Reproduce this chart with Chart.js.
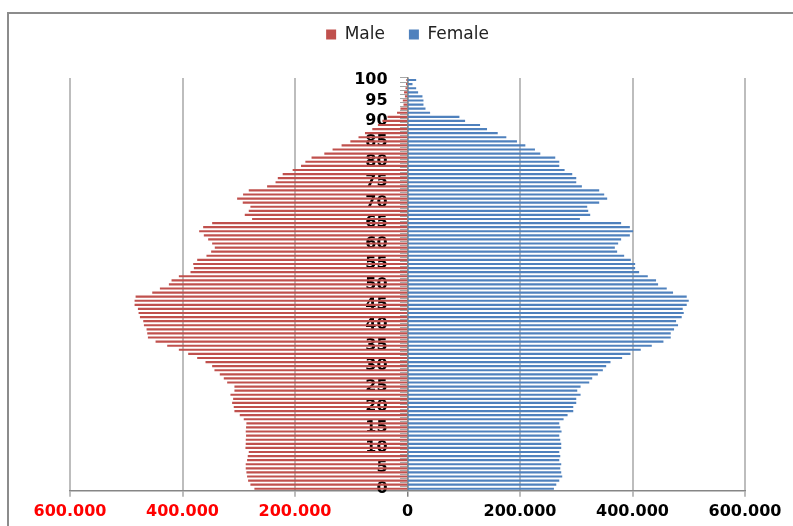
<!DOCTYPE html>
<html>
<head>
<meta charset="utf-8">
<script src="https://cdn.jsdelivr.net/npm/chart.js@4.4.1/dist/chart.umd.min.js"></script>
<style>
    html, body { margin: 0; padding: 0; background: #fff; overflow: hidden; }
    #frame { position: absolute; left: 7px; top: 12px; width: 820px; height: 560px; border: 2px solid #8c8c8c; box-sizing: border-box; }
    #chart { position: absolute; left: 0; top: 0; }
</style>
</head>
<body>
<div id="frame"></div>
<canvas id="chart" width="793" height="526"></canvas>
<script>
// ages 0..100
const ages = Array.from({ length: 101 }, (_, i) => String(i));

// population by single year of age
const male = [
    271600, 278700, 282800, 284600, 285800, 287000, 287000, 284600, 283400, 281600,
    287500, 287000, 287000, 286400, 287000, 286400, 285800, 290500, 297600, 307100,
    308300, 311200, 309400, 314200, 307100, 307100, 320000, 326000, 333100, 342600,
    346700, 358500, 373300, 389300, 405900, 426600, 447300, 460900, 462100, 463300,
    468000, 469200, 475100, 477500, 478700, 484600, 484600, 482800, 453200, 439600,
    423600, 418900, 405900, 385200, 379200, 380400, 373300, 356800, 348500, 342000,
    346700, 353800, 361500, 369800, 362700, 346700, 275700, 288700, 281600, 278700,
    292300, 302300, 291700, 281600, 249000, 234000, 230000, 221300, 203600, 188700,
    181000, 170000, 147300, 132600, 116600, 101000, 86500, 75000, 62000, 52000,
    44000, 35000, 18000, 12000, 6500, 7700, 4000, 5500, 3000, 2000,
    1500
];
const female = [
    259700, 263900, 269200, 274500, 272700, 271000, 272700, 269200, 271000, 269200,
    272700, 272700, 271000, 269200, 273300, 271000, 269200, 276900, 284000, 294100,
    294100, 299400, 299400, 307100, 301200, 307100, 322500, 327800, 337800, 346700,
    352600, 360300, 381000, 395800, 414100, 433700, 454400, 467400, 467400, 473300,
    480400, 476900, 486900, 490500, 488700, 495800, 499400, 495800, 471500, 460300,
    444900, 441300, 426600, 411200, 404100, 404100, 396400, 384600, 372100, 368000,
    373900, 379200, 394700, 400500, 394700, 379200, 305900, 324200, 320700, 318900,
    340200, 354400, 349100, 340200, 309400, 299400, 299400, 292300, 278700, 269200,
    269200, 262100, 235500, 226000, 208900, 194000, 175100, 159800, 140800, 128400,
    101800, 91700, 39600, 31400, 27800, 27800, 26000, 18300, 14800, 8300,
    14800
];

// x axis: -600.000 .. 600.000
const xTicks = [-600000, -400000, -200000, 0, 200000, 400000, 600000];

const fmt = v => String(Math.abs(v)).replace(/\B(?=(\d{3})+(?!\d))/g, '.');

// push the plot down below the legend
const legendSpacer = {
    id: 'legendSpacer',
    beforeInit(chart) {
        const fit = chart.legend.fit;
        chart.legend.fit = function () {
            fit.bind(chart.legend)();
            this.height += 25;
        };
    }
};

new Chart(document.getElementById('chart'), {
    type: 'bar',
    data: {
        labels: ages,
        datasets: [{
            label: 'Male',
            data: male.map(v => -v),
            backgroundColor: '#C0504D',
            borderWidth: 0,
            barThickness: 1.5
        }, {
            label: 'Female',
            data: female,
            backgroundColor: '#4F81BD',
            borderWidth: 0,
            barThickness: 1.5
        }]
    },
    options: {
        indexAxis: 'y',
        responsive: false,
        animation: false,
        devicePixelRatio: 1,
        layout: { padding: { left: 70, right: 48, top: 2, bottom: 0 } },
        plugins: {
            legend: {
                position: 'top',
                labels: {
                    boxWidth: 10,
                    boxHeight: 10,
                    padding: 24,
                    color: '#222',
                    font: { family: 'DejaVu Sans', size: 17 }
                }
            },
            tooltip: { enabled: false }
        },
        scales: {
            x: {
                stacked: true,
                min: xTicks[0],
                max: xTicks[xTicks.length - 1],
                afterBuildTicks: scale => { scale.ticks = xTicks.map(v => ({ value: v })); },
                grid: {
                    color: c => c.tick && c.tick.value === 0 ? '#7f7f7f' : '#bdbdbd',
                    lineWidth: c => c.tick && c.tick.value === 0 ? 1.5 : 2,
                    tickLength: 6
                },
                border: { color: '#868686', width: 1.5 },
                ticks: {
                    padding: 5,
                    color: c => c.tick.value < 0 ? '#ff0000' : '#000000',
                    font: { family: 'DejaVu Sans', size: 16, weight: 'bold' },
                    callback: v => fmt(v)
                }
            },
            y: {
                stacked: true,
                reverse: true,
                position: { x: 0 },
                z: 1,
                grid: { drawOnChartArea: false, tickLength: 7, color: '#a6a6a6' },
                border: { color: '#868686', width: 1.5 },
                ticks: {
                    autoSkip: false,
                    color: '#000',
                    font: { family: 'DejaVu Sans', size: 16, weight: 'bold' },
                    // labels sit against the centre axis, so pad them on the right
                    callback: function (v) {
                        const lab = this.getLabelForValue(v);
                        return Number(lab) % 5 === 0 ? lab + '\u00a0\u00a0\u00a0\u2009' : '';
                    }
                }
            }
        }
    },
    plugins: [legendSpacer]
});
</script>
</body>
</html>
